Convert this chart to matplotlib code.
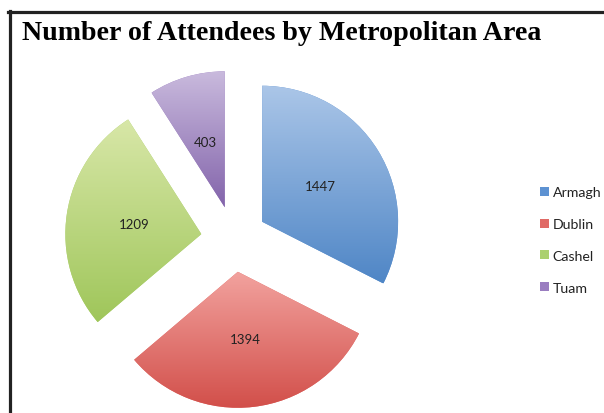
import numpy as np
import matplotlib
matplotlib.use("Agg")
import matplotlib.pyplot as plt
from matplotlib.colors import LinearSegmentedColormap
from matplotlib.lines import Line2D

# data
areas = ["Armagh", "Dublin", "Cashel", "Tuam"]
attendees = [1447, 1394, 1209, 403]

# colours (top of gradient, bottom of gradient, legend swatch)
tops = ["#abc6e8", "#f2a29e", "#d8e7a8", "#c9badd"]
bottoms = ["#4f86c6", "#d24f4a", "#9fc65a", "#8364ab"]
swatch = ["#5d92d2", "#e06a66", "#abd06e", "#9a7dc0"]

W, H = 604, 414
fig = plt.figure(figsize=(W / 100, H / 100), dpi=100)
ax = fig.add_axes([0, 0, 1, 1])

cx, cy = 234, H - 240
rad = 136
wedges, texts, autotexts = ax.pie(
    attendees, center=(cx, cy), radius=rad, explode=[33] * 4,
    startangle=90, counterclock=False, colors=swatch,
    autopct=lambda p: "%d" % round(p * sum(attendees) / 100.0),
    pctdistance=0.5, textprops=dict(fontsize=9.5, family="Lato", color="#222222"),
    wedgeprops=dict(linewidth=0))

# vertical gradient inside each slice
grad = np.linspace(0, 1, 256).reshape(-1, 1)
for w, t, b in zip(wedges, tops, bottoms):
    ext = w.get_path().get_extents()
    cmap = LinearSegmentedColormap.from_list("g", [b, t])
    im = ax.imshow(grad, cmap=cmap, origin="lower", aspect="auto",
                   extent=[ext.x0, ext.x1, ext.y0, ext.y1], zorder=w.get_zorder() + 0.1)
    im.set_clip_path(w)
for t in autotexts:
    t.set_zorder(5)

ax.set_xlim(0, W)
ax.set_ylim(0, H)
ax.set_aspect("auto")
ax.axis("off")

# legend
leg = ax.legend(wedges, areas, loc="center left", bbox_to_anchor=(540 / W, 1 - 241 / H),
                frameon=False, handlelength=0.6, handleheight=0.6, handletextpad=0.3,
                labelspacing=1.4, borderpad=0, borderaxespad=0,
                prop=dict(family="Lato", size=10.2))
for txt in leg.get_texts():
    txt.set_color("#222222")

# title
fig.text(22 / W, 1 - 34 / H, "Number of Attendees by Metropolitan Area",
         family="Liberation Serif", fontweight="bold", fontsize=20.2, va="center", ha="left")

# frame lines (top and left)
fig.add_artist(Line2D([8 / W, 1], [1 - 13 / H] * 2, transform=fig.transFigure,
                      color="#222222", lw=2.3))
fig.add_artist(Line2D([9.5 / W] * 2, [1 - 12 / H, 0], transform=fig.transFigure,
                      color="#222222", lw=2.3))

fig.savefig("out.png", dpi=100)
